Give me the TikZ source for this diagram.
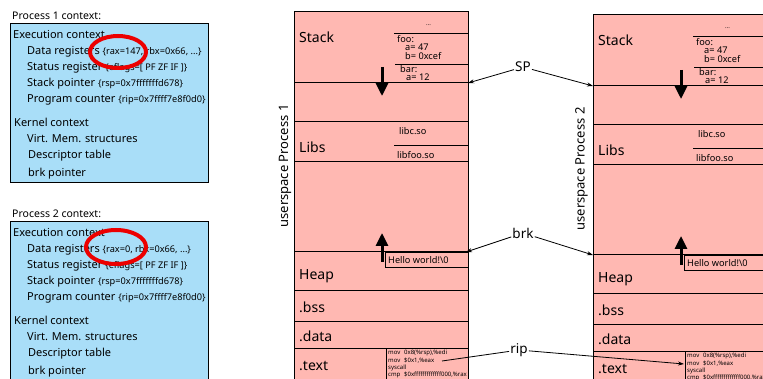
\documentclass[tikz,border=0pt]{standalone}
\usepackage{fontspec}
\setmainfont{Noto Sans}
\usepackage{tikz}
\usetikzlibrary{arrows.meta}
\definecolor{ctxblue}{RGB}{169,222,248}
\definecolor{mempink}{RGB}{255,184,178}
\definecolor{ringred}{RGB}{236,0,0}
\newcommand\regfont{\fontsize{9.2}{11}\selectfont}

\begin{document}
\begin{tikzpicture}[x=1pt, y=-1pt,
  head/.style = {anchor=west, inner sep=0pt, font=\fontsize{10.5}{12}\selectfont},
  item/.style = {anchor=west, inner sep=0pt, font=\fontsize{11}{13}\selectfont},
  seg/.style = {anchor=west, inner sep=0pt, font=\fontsize{14}{16}\selectfont},
  note/.style = {anchor=west, inner sep=0pt, font=\fontsize{9.2}{10}\selectfont},
  asm/.style = {anchor=north west, inner sep=0pt, align=left, font=\fontsize{6}{7.4}\selectfont},
  ptr/.style = {font=\fontsize{13.5}{15}\selectfont, inner sep=1pt},
  growarrow/.style = {line width=3pt, -{Triangle[length=13pt,width=12pt]}},
  link/.style = {line width=0.8pt, -{Stealth[length=6pt,width=4pt]}}]
\clip (0,0) rectangle (763,379);

\foreach \p/\dy/\bot/\rax in {1/0/182/147, 2/198/200/0} {
  \begin{scope}[shift={(0,\dy)}]
    \node[head] (title\p) at (12,16) {Process \p\ context:};
    \draw[fill=ctxblue, line width=0.9pt] (10,23) rectangle (208,\bot);
    \node[item] (exec\p) at (13,35) {Execution context};
    \node[item] (regs\p) at (27,52) {Data registers {\regfont\{\textbf{rax=\rax}, rbx=0x66, ...\}}};
    \node[item] (flags\p) at (27,68) {Status register {\regfont\{eflags=[ PF ZF IF ]\}}};
    \node[item] (rsp\p) at (27,84) {Stack pointer {\regfont\{rsp=0x7fffffffd678\}}};
    \node[item] (pc\p) at (27,100) {Program counter {\regfont\{rip=0x7ffff7e8f0d0\}}};
    \node[item] (kern\p) at (14,122) {Kernel context};
    \node[item] (vm\p) at (27,139) {Virt. Mem. structures};
    \node[item] (fd\p) at (28,156) {Descriptor table};
    \node[item] (brkp\p) at (28,174) {brk pointer};
  \end{scope}
}
\draw[ringred, line width=4pt] (118,52) ellipse [x radius=28, y radius=16];
\draw[ringred, line width=4pt] (116,247) ellipse [x radius=30, y radius=17];

\foreach \p/\dx/\dy in {1/0/0, 2/299/3} {
  \begin{scope}[shift={(\dx,\dy)}]
    \draw[fill=mempink, line width=1pt] (294,12) rectangle (468,400);
    \foreach \y in {83,122,162,252,291,322,348}
      \draw[line width=1pt] (294,\y) -- (468,\y);
    \node[rotate=90, font=\fontsize{13}{15}\selectfont] (user\p) at (285-\p*2.5+2.5,166) {userspace Process \p};
    \node[seg] (stack\p) at (299,37) {Stack};
    \node[seg] (libs\p) at (299,147) {Libs};
    \node[seg] (heap\p) at (299,276) {Heap};
    \node[seg] (bss\p) at (299,307) {.bss};
    \node[seg] (dataseg\p) at (299,336) {.data};
    \node[seg] (textseg\p) at (299,366) {.text};
    \node[note, font=\fontsize{6}{7}\selectfont] (dots\p) at (426,25) {...};
    \draw[line width=0.8pt] (394,33) -- (468,33);
    \node[note] (foo\p) at (397,39) {foo:};
    \node[note] (fooa\p) at (405,47) {a= 47};
    \node[note] (foob\p) at (405,56) {b= 0xcef};
    \draw[line width=0.8pt] (395,64) -- (468,64);
    \node[note] (bar\p) at (400,69) {bar:};
    \node[note] (bara\p) at (406,77) {a= 12};
    \node[note] (libc\p) at (399,131) {libc.so};
    \draw[line width=0.8pt] (394,145) -- (468,145);
    \node[note] (libfoo\p) at (397,155) {libfoo.so};
    \draw[growarrow] (382,67) -- (382,96);
    \draw[growarrow] (382,262) -- (382,233);
    \draw[line width=0.8pt] (385,252) rectangle (468,267);
    \node[note] (hello\p) at (388,260) {Hello world!\textbackslash0};
    \draw[line width=0.8pt] (386,348) rectangle (468,400);
    \node[asm] (code\p) at (388,350) {\makebox[16pt][l]{mov}0x8(\%rsp),\%edi\\
      \makebox[16pt][l]{mov}\$0x1,\%eax\\
      syscall\\
      \makebox[16pt][l]{cmp}\$0xfffffffffffff000,\%rax};
    \coordinate (spL\p) at (294,83);
    \coordinate (spR\p) at (468,83);
    \coordinate (brkL\p) at (294,252);
    \coordinate (brkR\p) at (466,252);
    \coordinate (ripL\p) at (385,361);
    \coordinate (ripR\p) at (442,361);
  \end{scope}
}

\node[ptr] (sp) at (523,67) {SP};
\node[ptr] (brk) at (523,233) {brk};
\node[ptr] (rip) at (519,350) {rip};
\draw[link] (sp) -- (spR1);
\draw[link] (sp) -- (spL2);
\draw[link] (brk) -- (brkR1);
\draw[link] (brk) -- (brkL2);
\draw[line width=0.8pt] (rip) -- (ripR1);
\draw[link] (rip) -- (ripL2);
\end{tikzpicture}
\end{document}
